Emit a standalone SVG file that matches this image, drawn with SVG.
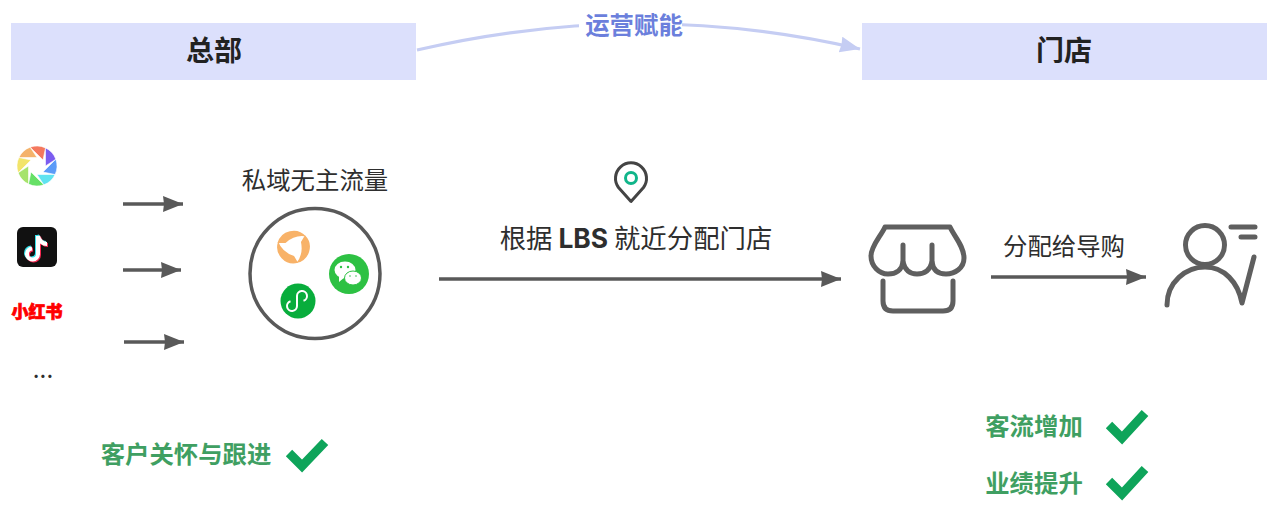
<svg xmlns="http://www.w3.org/2000/svg" width="1280" height="516" viewBox="0 0 1280 516">
<style>
text{font-family:"Noto Sans CJK SC","Liberation Sans",sans-serif;text-anchor:middle;font-size:24.400px;fill:#2e2e2e}
.hd{fill:#dce0fc}
.ht{font-size:28px;font-weight:700;fill:#222}
.gr{font-weight:700;fill:#3f9f62}
.ln{fill:none;stroke:#595959;stroke-width:3.400}
.ic{fill:none;stroke:#5f5f5f;stroke-width:5;stroke-linecap:round;stroke-linejoin:round}
.ck{fill:none;stroke:#0ea45a;stroke-width:9}
.bl{stroke:#fff;stroke-width:.6}
</style>
<defs>
<marker id="ah" markerUnits="userSpaceOnUse" markerWidth="22" markerHeight="18" refX="20" refY="8" orient="auto"><path d="M0 0L20 8L0 16L1 8Z" fill="#595959"/></marker>
<marker id="ab" markerUnits="userSpaceOnUse" markerWidth="22" markerHeight="18" refX="20" refY="8" orient="auto"><path d="M0 0L20 8L0 16L1 8Z" fill="#c5cdf3"/></marker>
</defs>
<rect width="1280" height="516" fill="#fff"/>
<g id="connectors">
<path d="M417 50Q640 -2 860 49" fill="none" stroke="#c5cdf3" stroke-width="3.200" marker-end="url(#ab)"/>
<path class="ln" d="M123 204H183" marker-end="url(#ah)"/>
<path class="ln" d="M123 270H181" marker-end="url(#ah)"/>
<path class="ln" d="M124 342H184" marker-end="url(#ah)"/>
<path class="ln" d="M439 279H841" marker-end="url(#ah)"/>
<path class="ln" d="M991 277H1146" marker-end="url(#ah)"/>
</g>
<g id="hq"><rect class="hd" x="11" y="23" width="405" height="57"/><text class="ht" x="214" y="61">总部</text></g>
<g id="store-header"><rect class="hd" x="862" y="23" width="405" height="57"/><text class="ht" x="1064" y="61">门店</text></g>
<g id="empower"><rect x="579" y="8" width="103" height="36" fill="#fff"/><text x="634" y="34" font-weight="700" style="fill:#6b7fdc">运营赋能</text></g>
<g id="aperture">
<path class="bl" fill="#f4785e" d="M30.200 147.200A20 20 0 0 1 45.500 147.900L43 160Z"/>
<path class="bl" fill="#7b5cf0" d="M45.500 147.900A20 20 0 0 1 55.800 159.200L45.500 166Z"/>
<path class="bl" fill="#5b9bf8" d="M55.800 159.200A20 20 0 0 1 55.100 174.500L43 172Z"/>
<path class="bl" fill="#5fe3f0" d="M55.100 174.500A20 20 0 0 1 43.800 184.800L37 174.500Z"/>
<path class="bl" fill="#66e066" d="M43.800 184.800A20 20 0 0 1 28.500 184.100L31 172Z"/>
<path class="bl" fill="#a6e36b" d="M28.500 184.100A20 20 0 0 1 18.200 172.800L28.500 166Z"/>
<path class="bl" fill="#f2e46a" d="M18.200 172.800A20 20 0 0 1 18.900 157.500L31 160Z"/>
<path class="bl" fill="#f4b26b" d="M18.900 157.500A20 20 0 0 1 30.200 147.200L37 157.500Z"/>
</g>
<g id="douyin">
<rect x="17" y="227" width="40" height="40" rx="6" fill="#111"/>
<g fill="none" stroke-width="4">
<path stroke="#35e0ea" d="M37 235V253A5.500 5.500 0 1 1 31 247.500M37 235C38 240 42 243 46 243"/>
<path stroke="#f5264f" d="M39 237V255A5.500 5.500 0 1 1 33 249.500M39 237C40 242 44 245 48 245"/>
<path stroke="#fff" d="M38 236V254A5.500 5.500 0 1 1 32 248.500M38 236C39 241 43 244 47 244"/>
</g>
</g>
<g id="xiaohongshu"><text x="37" y="318" style="font-size:17px;font-weight:900;fill:#f00;stroke:#f00;stroke-width:.7">小红书</text></g>
<g id="more"><text x="43" y="378">...</text></g>
<g id="private-traffic">
<text x="315" y="189">私域无主流量</text>
<circle cx="315" cy="273.500" r="65" fill="#fff" stroke="#595959" stroke-width="3.500"/>
<g fill="#f8b268">
<path d="M277.500 243A16.500 16.500 0 0 1 306 236.500Q295 234.500 285.500 243Z"/>
<path d="M277.500 243A16.500 16.500 0 0 1 306 236.500Q295 234.500 285.500 243Z" transform="rotate(120 293.500 247)"/>
<path d="M277.500 243A16.500 16.500 0 0 1 306 236.500Q295 234.500 285.500 243Z" transform="rotate(240 293.500 247)"/>
</g>
<circle cx="349" cy="274" r="20" fill="#2dc143"/>
<ellipse cx="345" cy="270" rx="10.500" ry="8.500" fill="#fff"/>
<path d="M339 275L339 282L345 277Z" fill="#fff"/>
<ellipse cx="353" cy="278" rx="8.500" ry="7" fill="#fff" stroke="#2dc143"/>
<g fill="#2dc143"><circle cx="341" cy="267" r="1.200"/><circle cx="348" cy="267" r="1.200"/></g>
<g fill="#8bd99a"><circle cx="350" cy="276" r="1"/><circle cx="356" cy="276" r="1"/></g>
<circle cx="298" cy="301" r="17.500" fill="#08ad3c"/>
<path d="M290.500 301.200A5 5 0 1 0 297 306V296A5 5 0 1 1 303.500 300.800" fill="none" stroke="#fff" stroke-width="2"/>
</g>
<g id="lbs">
<path d="M631 201.500L618.500 187.500A15.500 15.500 0 1 1 643.500 187.500Z" fill="none" stroke="#444" stroke-width="3" stroke-linejoin="round"/>
<circle cx="631" cy="178" r="5.500" fill="none" stroke="#10b58a" stroke-width="3"/>
<text x="636" y="248" style="font-size:26.400px">根据 <tspan font-weight="700" font-family="Inter,'Liberation Sans',sans-serif">LBS</tspan> 就近分配门店</text>
</g>
<g id="store">
<path class="ic" d="M885 227H950C954 236 964 246 964 258C964 268 955 274 946 274C938 274 933 270 932 262C930 270 925 274 917 274C909 274 905 270 903 262C902 270 896 274 888 274C879 274 871 266 871 256C871 246 881 236 885 227Z"/>
<path class="ic" d="M903 262V245M932 262V245"/>
<path class="ic" d="M883 281V301Q883 311 893 311H943Q953 311 953 301V281"/>
</g>
<g id="assign"><text x="1064" y="255">分配给导购</text></g>
<g id="guide">
<circle class="ic" cx="1205" cy="245" r="19.500"/>
<path class="ic" d="M1167 305C1167 282 1186 267 1205 267C1224 267 1238 282 1242 303L1254 257"/>
<path class="ic" d="M1231 227H1255M1241 237H1255"/>
</g>
<g id="follow-up"><text class="gr" x="186" y="463">客户关怀与跟进</text><path class="ck" d="M289 453L302 466L325 442"/></g>
<g id="traffic-up"><text class="gr" x="1034" y="435">客流增加</text><path class="ck" d="M1109 425L1122 438L1145 413"/></g>
<g id="sales-up"><text class="gr" x="1034" y="492">业绩提升</text><path class="ck" d="M1109 481L1122 494L1145 469"/></g>
</svg>
